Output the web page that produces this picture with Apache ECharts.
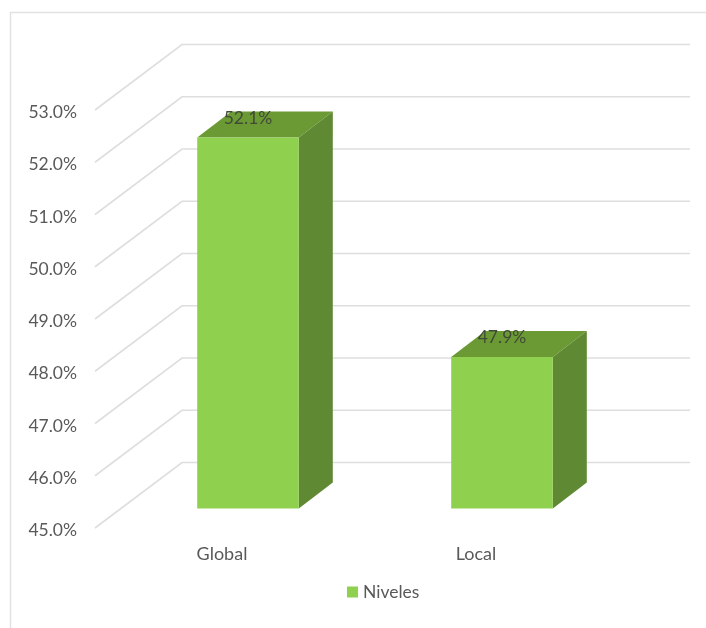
<!DOCTYPE html>
<html><head><meta charset="utf-8">
<style>html,body{margin:0;padding:0;background:#fff}#c{width:706px;height:628px}</style>
<script src="https://cdn.jsdelivr.net/npm/echarts@6/dist/echarts.min.js"></script>
</head><body><div id="c"></div>
<script>
const categories = ['Global', 'Local'];
const values = [52.1, 47.9];
const dataLabels = ['52.1%', '47.9%'];
const axisTicks = [45, 46, 47, 48, 49, 50, 51, 52, 53];
const seriesName = 'Niveles';

const wall = { dx: 87, dy: -65.5 };
const barFront = { dx: 26, dy: -19.5 };
const barDepth = { dx: 34, dy: -26 };
const frontColor = '#8FD14F', sideColor = '#5F8A33', topColor = '#6B9A35', lineColor = '#DEDEDE';

const chart = echarts.init(document.getElementById('c'));
chart.setOption({
  animation: false,
  backgroundColor: '#fff',
  grid: { left: 95, right: 103, top: 110, bottom: 100 },
  legend: {
    data: [seriesName], top: 578, left: 342, icon: 'rect',
    itemWidth: 11, itemHeight: 11, itemGap: 6,
    textStyle: { color: '#595959', fontFamily: 'Lato', fontSize: 17.5 }
  },
  xAxis: {
    type: 'category', data: categories,
    axisLine: { show: false }, axisTick: { show: false },
    axisLabel: { color: '#595959', fontFamily: 'Lato', fontSize: 18, margin: 17 }
  },
  yAxis: {
    type: 'value', min: 45, max: 53, interval: 1,
    axisLine: { show: false }, axisTick: { show: false }, splitLine: { show: false },
    axisLabel: { color: '#595959', fontFamily: 'Lato', fontSize: 17.5, margin: 18, verticalAlign: 'top', lineHeight: 5,
      formatter: v => v.toFixed(1) + '%' }
  },
  graphic: [
    { type: 'polyline', silent: true, z: 0,
      shape: { points: [[10.5, 628], [10.5, 12.5], [706, 12.5]] },
      style: { fill: null, stroke: '#E2E2E2', lineWidth: 1.5 } }
  ],
  series: [
    {
      name: 'walls', type: 'custom', z: 1, silent: true,
      data: axisTicks,
      encode: { y: 0 },
      renderItem(params, api) {
        const p = api.coord([0, api.value(0)]);
        const left = params.coordSys.x;
        const right = left + params.coordSys.width;
        const y = p[1];
        return {
          type: 'polyline',
          shape: { points: [[left, y], [left + wall.dx, y + wall.dy], [right + wall.dx, y + wall.dy]] },
          style: { fill: null, stroke: lineColor, lineWidth: 1.6 }
        };
      }
    },
    {
      name: seriesName, type: 'custom', z: 2,
      itemStyle: { color: frontColor },
      data: values.map((v, i) => [i, v, dataLabels[i]]),
      encode: { x: 0, y: 1 },
      renderItem(params, api) {
        const top = api.coord([api.value(0), api.value(1)]);
        const bot = api.coord([api.value(0), 45]);
        const w = api.size([1, 0])[0] * 0.4;
        const xl = top[0] - w / 2 + barFront.dx, xr = xl + w;
        const yt = top[1] + barFront.dy, yb = bot[1] + barFront.dy;
        const d = barDepth;
        return {
          type: 'group',
          children: [
            { type: 'polygon', shape: { points: [[xl, yt], [xr, yt], [xr + d.dx, yt + d.dy], [xl + d.dx, yt + d.dy]] }, style: { fill: topColor } },
            { type: 'polygon', shape: { points: [[xr, yt], [xr + d.dx, yt + d.dy], [xr + d.dx, yb + d.dy], [xr, yb]] }, style: { fill: sideColor } },
            { type: 'rect', shape: { x: xl, y: yt, width: w, height: yb - yt }, style: { fill: frontColor } },
            { type: 'text', style: { text: api.value(2), x: xl + w / 2, y: yt - 19.5, align: 'center', verticalAlign: 'middle',
                fill: '#404A36', font: '17.5px Lato' } }
          ]
        };
      }
    }
  ]
});
</script></body></html>
